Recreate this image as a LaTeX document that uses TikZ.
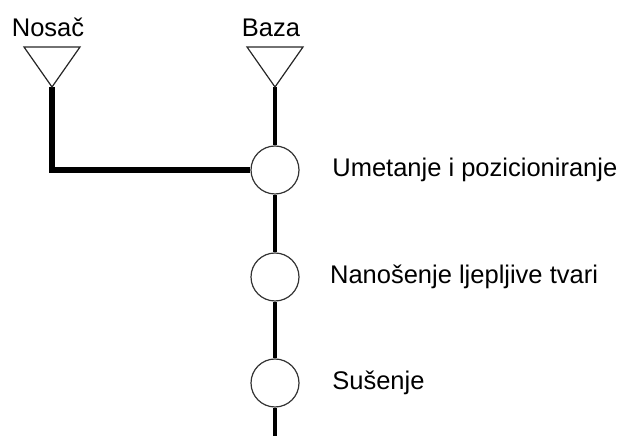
\documentclass[tikz,border=0pt]{standalone}
\usepackage{fontspec}
\setmainfont{Liberation Sans}
\usetikzlibrary{positioning}
\tikzstyle{station} = [circle, draw=black!80, line width=0.9pt, fill=white, minimum size=1.27cm, inner sep=0pt]
\tikzstyle{label} = [font=\fontsize{19.2}{22}\selectfont, inner sep=0pt]
\tikzstyle{feed} = [draw=black!85, line width=0.9pt, line join=miter]
\tikzstyle{mainline} = [line width=2.3pt]
\tikzstyle{sideline} = [line width=3.8pt]

\begin{document}
\begin{tikzpicture}[x=0.02646cm,y=-0.02646cm]
            \useasboundingbox (0,0) rectangle (627,436);
            % ulazi
            \coordinate (nosac) at (52,87);
            \coordinate (baza) at (275,87);
            \coordinate (kraj) at (275,436);
            \node [label] (lnosac) at (48,27) {Nosač};
            \node [label] (lbaza) at (271,28) {Baza};

            % operacije
            \node [station] (c1) at (275,170) {};
            \node [station] (c2) at (275,277) {};
            \node [station] (c3) at (275,383) {};
            \node [label, right=0.86cm of c1] (op1) {Umetanje i pozicioniranje};
            \node [label, right=0.8cm of c2] (op2) {Nanošenje ljepljive tvari};
            \node [label, right=0.86cm of c3] (op3) {Sušenje};

            \draw[sideline](nosac) |- (c1);
            \draw[mainline](baza) -- (c1);
            \draw[mainline](c1) -- (c2);
            \draw[mainline](c2) -- (c3);
            \draw[mainline](c3) -- (kraj);

            \draw[feed](nosac) -- ++(-28,-40) -- ++(56,0) -- cycle;
            \draw[feed](baza) -- ++(-28,-40) -- ++(56,0) -- cycle;
        \end{tikzpicture}
\end{document}
